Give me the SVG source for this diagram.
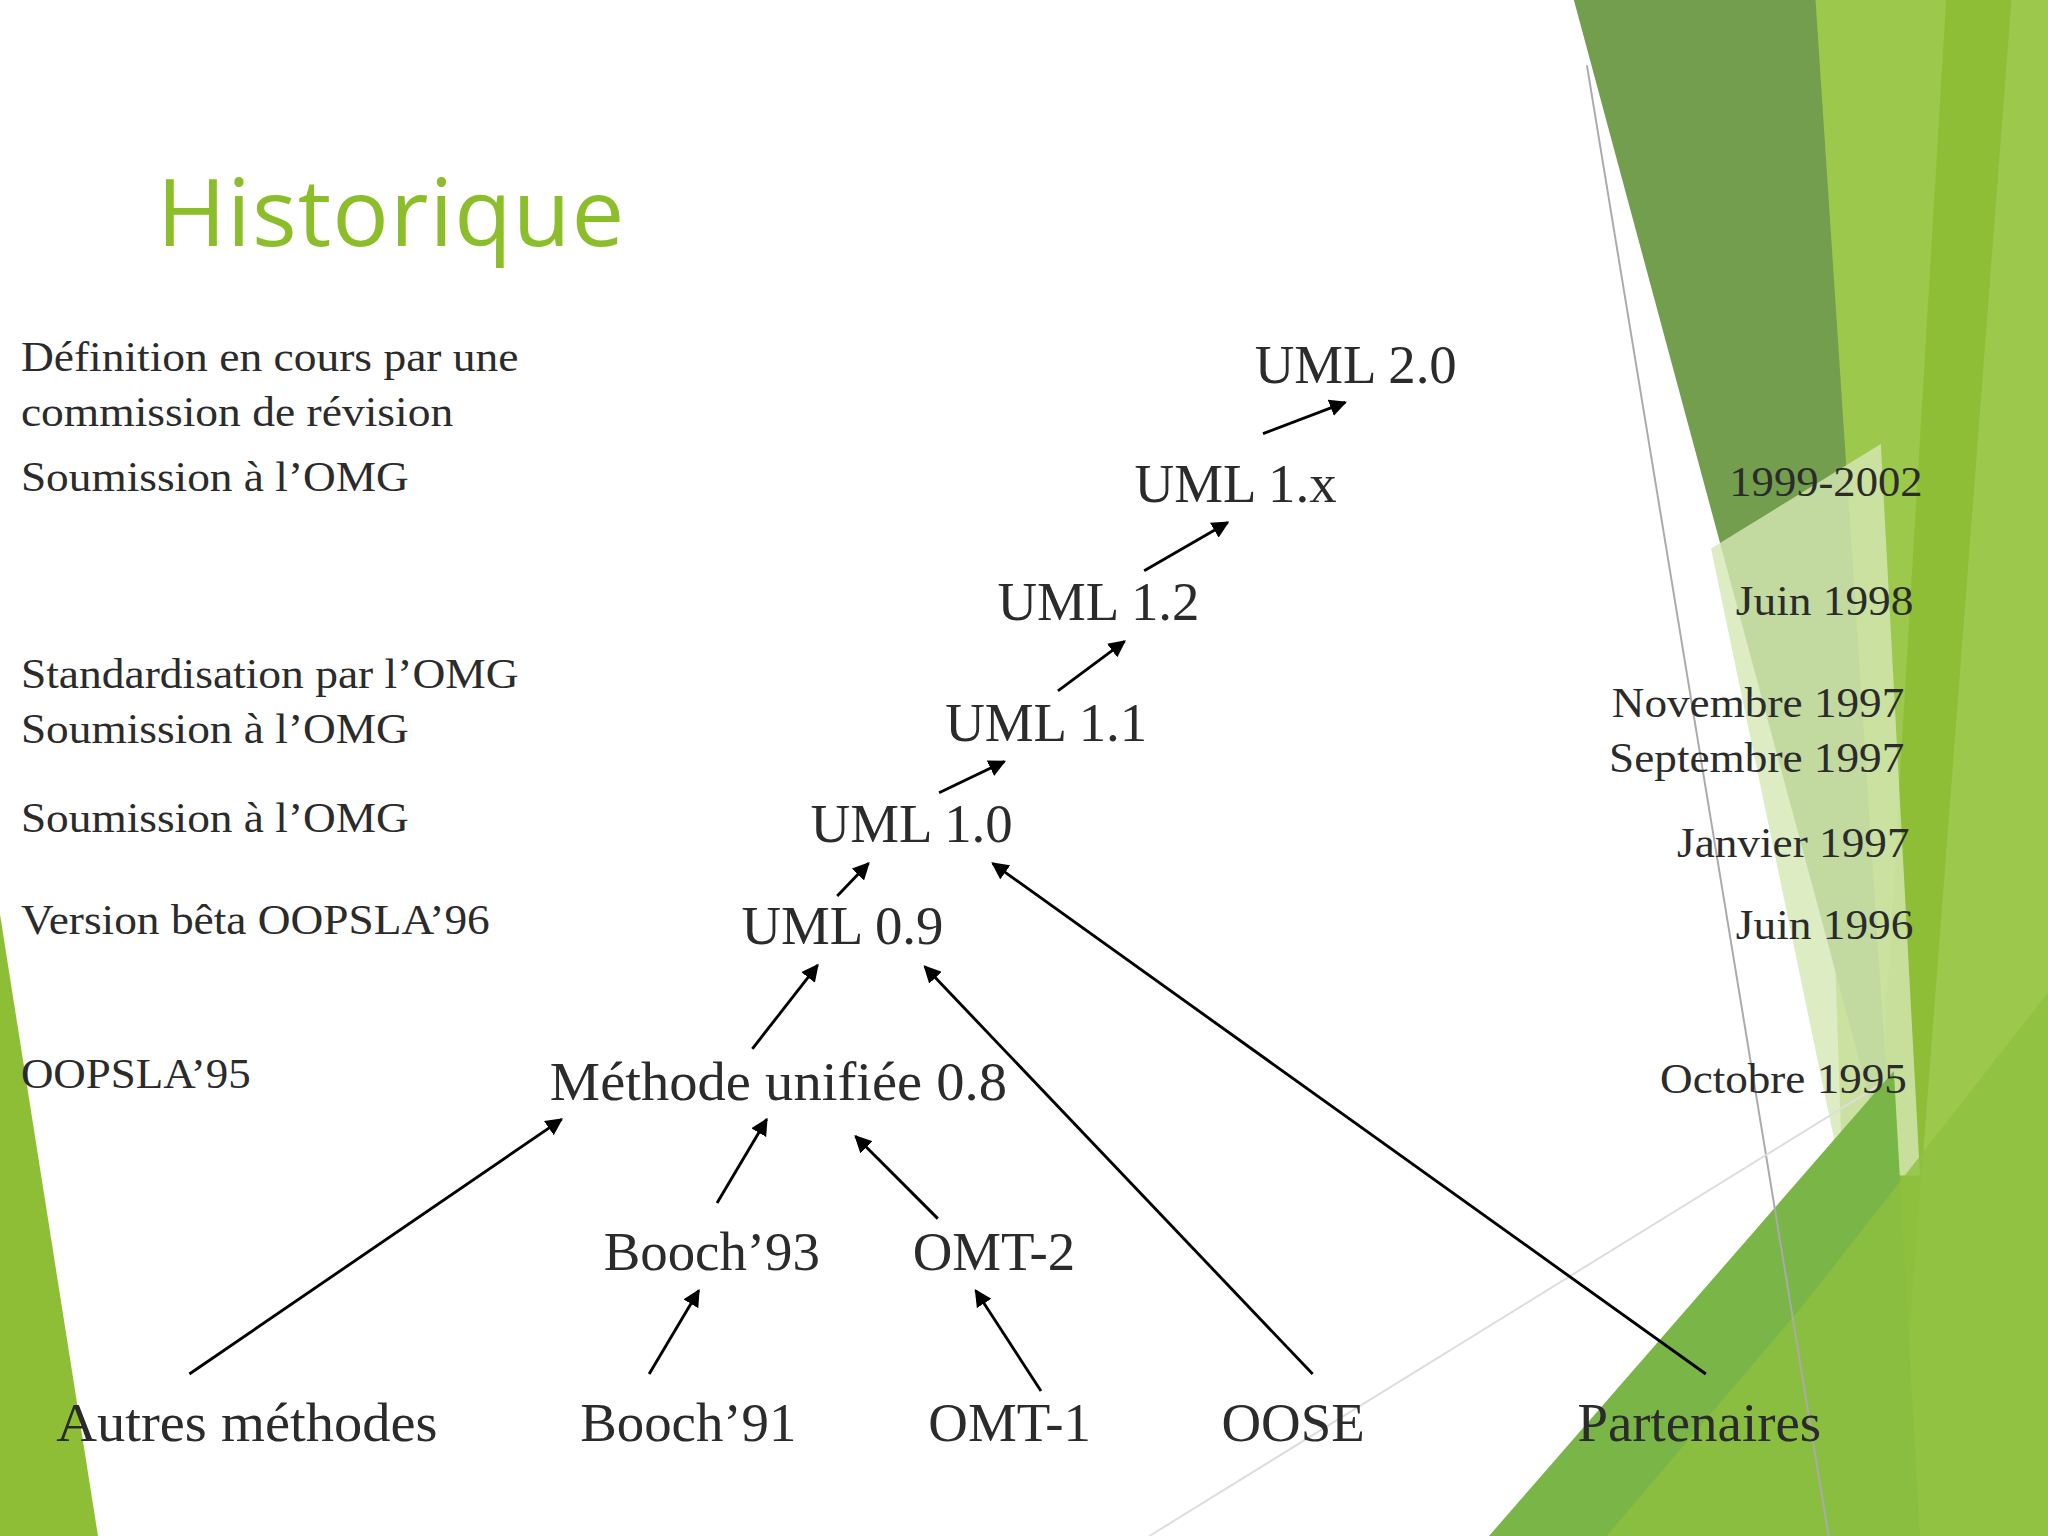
<svg xmlns="http://www.w3.org/2000/svg" width="2048" height="1536" viewBox="0 0 2048 1536">
<defs>
<style>
.t{font-family:"Liberation Serif",serif;fill:#2b2b2b}
.n{font-size:42px;text-anchor:middle}
.l{font-size:33px}
.d{font-size:33px}
.c line{stroke:#000;stroke-width:2.2;marker-end:url(#a)}
</style>
<marker id="a" viewBox="0 0 10 10" refX="9" refY="5" markerWidth="6" markerHeight="6" orient="auto"><path d="M0,0L10,5L0,10z" fill="#000"/></marker>
</defs>
<rect width="2048" height="1536" fill="#fff"/>
<g transform="scale(1.30612)">
<g id="bg">
<polygon points="1380,0 1568,0 1568,1176 1420,1176" fill="#9cc84c"/>
<polygon points="1490,0 1540,0 1450,1176 1420,1176" fill="#8dbe35"/>
<polygon points="1205,0 1390,0 1450,910" fill="#729e4d"/>
<polygon points="1310,420 1440,340 1470,900 1410,900" fill="#d6e7b5" opacity="0.8"/>
<polygon points="1140,1176 1450,820 1470,1176" fill="#7ab547"/>
<polygon points="1230,1176 1380,1000 1568,760 1568,1176" fill="#8fc040" opacity="0.8"/>
<polygon points="0,700 0,1176 75,1176" fill="#8dbe35"/>
<line x1="1215" y1="50" x2="1400" y2="1176" stroke="#aaa" stroke-width="1.5"/>
<line x1="880" y1="1176" x2="1440" y2="830" stroke="#ddd" stroke-width="1.5"/>
</g>
<text x="120" y="188" font-family="Open Sans, sans-serif" font-size="72" fill="#8cbd2a" textLength="358">Historique</text>
<g class="t l" lengthAdjust="spacingAndGlyphs">
<text x="16" y="284" textLength="381" lengthAdjust="spacingAndGlyphs">Définition en cours par une</text>
<text x="16" y="326" textLength="331" lengthAdjust="spacingAndGlyphs">commission de révision</text>
<text x="16" y="376" textLength="297" lengthAdjust="spacingAndGlyphs">Soumission à l’OMG</text>
<text x="16" y="527" textLength="381" lengthAdjust="spacingAndGlyphs">Standardisation par l’OMG</text>
<text x="16" y="569" textLength="297" lengthAdjust="spacingAndGlyphs">Soumission à l’OMG</text>
<text x="16" y="637" textLength="297" lengthAdjust="spacingAndGlyphs">Soumission à l’OMG</text>
<text x="16" y="715" textLength="359" lengthAdjust="spacingAndGlyphs">Version bêta OOPSLA’96</text>
<text x="16" y="833" textLength="176" lengthAdjust="spacingAndGlyphs">OOPSLA’95</text>
</g>
<g class="t d">
<text x="1324" y="380" textLength="148" lengthAdjust="spacingAndGlyphs">1999-2002</text>
<text x="1329" y="471" textLength="136" lengthAdjust="spacingAndGlyphs">Juin 1998</text>
<text x="1234" y="549" textLength="224" lengthAdjust="spacingAndGlyphs">Novembre 1997</text>
<text x="1232" y="591" textLength="226" lengthAdjust="spacingAndGlyphs">Septembre 1997</text>
<text x="1284" y="656" textLength="178" lengthAdjust="spacingAndGlyphs">Janvier 1997</text>
<text x="1329" y="719" textLength="136" lengthAdjust="spacingAndGlyphs">Juin 1996</text>
<text x="1271" y="837" textLength="189" lengthAdjust="spacingAndGlyphs">Octobre 1995</text>
</g>
<g id="uml20"><text class="t n" x="1038" y="293">UML 2.0</text></g>
<g id="uml1x"><text class="t n" x="946" y="384">UML 1.x</text></g>
<g id="uml12"><text class="t n" x="841" y="475">UML 1.2</text></g>
<g id="uml11"><text class="t n" x="801" y="567">UML 1.1</text></g>
<g id="uml10"><text class="t n" x="698" y="645">UML 1.0</text></g>
<g id="uml09"><text class="t n" x="645" y="723">UML 0.9</text></g>
<g id="mu08"><text class="t n" x="596" y="842" textLength="350" lengthAdjust="spacingAndGlyphs">Méthode unifiée 0.8</text></g>
<g id="booch93"><text class="t n" x="545" y="972">Booch’93</text></g>
<g id="omt2"><text class="t n" x="761" y="972">OMT-2</text></g>
<g id="autres"><text class="t n" x="189" y="1103" textLength="292" lengthAdjust="spacingAndGlyphs">Autres méthodes</text></g>
<g id="booch91"><text class="t n" x="527" y="1103">Booch’91</text></g>
<g id="omt1"><text class="t n" x="773" y="1103">OMT-1</text></g>
<g id="oose"><text class="t n" x="990" y="1103">OOSE</text></g>
<g id="part"><text class="t n" x="1301" y="1103">Partenaires</text></g>
<g class="c" id="connectors">
<line x1="967" y1="332" x2="1030" y2="308"/>
<line x1="876" y1="437" x2="940" y2="400"/>
<line x1="810" y1="529" x2="861" y2="491"/>
<line x1="719" y1="607" x2="769" y2="583"/>
<line x1="641" y1="686" x2="665" y2="661"/>
<line x1="576" y1="803" x2="626" y2="739"/>
<line x1="1005" y1="1052" x2="708" y2="740"/>
<line x1="1306" y1="1052" x2="760" y2="661"/>
<line x1="145" y1="1052" x2="430" y2="857"/>
<line x1="549" y1="921" x2="587" y2="857"/>
<line x1="718" y1="933" x2="655" y2="870"/>
<line x1="497" y1="1052" x2="535" y2="988"/>
<line x1="797" y1="1065" x2="747" y2="988"/>
</g>
</g>
</svg>
